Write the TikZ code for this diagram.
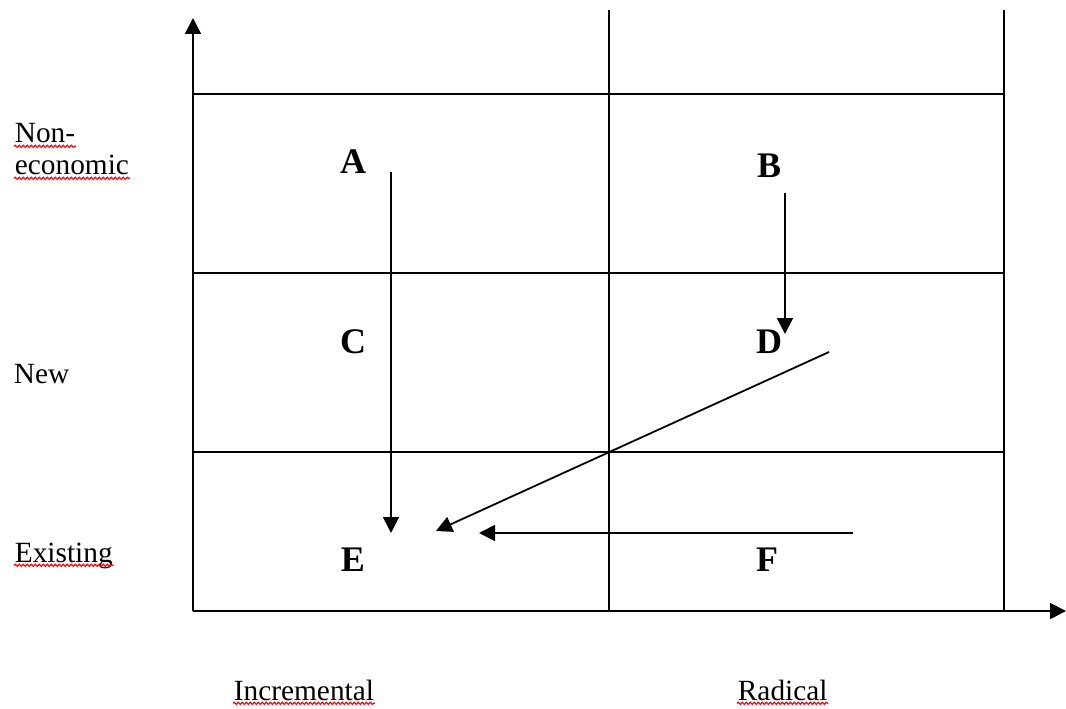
\documentclass[tikz,border=0pt]{standalone}
\usepackage{fontspec}
\setmainfont{Liberation Serif}
\usetikzlibrary{arrows.meta,decorations.pathmorphing}

\begin{document}
\begin{tikzpicture}[x=0.75pt,y=-0.75pt,line width=1.35pt,
  cell/.style={font=\fontsize{27}{30}\selectfont\bfseries,inner sep=0pt},
  lbl/.style={font=\fontsize{22}{26}\selectfont,anchor=base west,inner sep=0pt},
  arr/.style={-{Triangle[length=12pt,width=12pt]}},
  spell/.style={red,line width=0.9pt,decorate,decoration={snake,amplitude=0.8pt,segment length=3pt}}]
\useasboundingbox (0,0) rectangle (1066,709);
% axes
\coordinate (o) at (193,611);
\coordinate (ytop) at (193,18);
\coordinate (xend) at (1066,611);
\draw[arr] (o) -- (ytop);
\draw[arr] (o) -- (xend);
% grid
\draw (609,10) -- (609,611);
\draw (1004,10) -- (1004,611);
\foreach \y in {94,273,452}
  \draw (193,\y) -- (1004,\y);
% cells
\node[cell] (a) at (353,162) {A};
\node[cell] (b) at (769,166) {B};
\node[cell] (c) at (353,342) {C};
\node[cell] (d) at (769,342) {D};
\node[cell] (e) at (353,560) {E};
\node[cell] (f) at (767,560) {F};
% moves
\coordinate (a0) at (391,172);
\coordinate (a1) at (391,533);
\coordinate (b0) at (785,193);
\coordinate (b1) at (785,334);
\coordinate (d0) at (829,352);
\coordinate (d1) at (436,531);
\coordinate (f0) at (853,533);
\coordinate (f1) at (479,533);
\draw[arr] (a0) -- (a1);
\draw[arr] (b0) -- (b1);
\draw[arr] (d0) -- (d1);
\draw[arr] (f0) -- (f1);
% row labels
\node[lbl] (non) at (14,143) {Non-};
\node[lbl] (eco) at (14,175) {economic};
\node[lbl] (new) at (13,383) {New};
\node[lbl] (ex) at (14,562) {Existing};
% column labels
\node[lbl] (inc) at (233,700) {Incremental};
\node[lbl] (rad) at (737,700) {Radical};
% spelling marks
\foreach \w in {non,eco,ex,inc,rad}
  \draw[spell] ([yshift=-2.5pt]\w.base west) -- ([yshift=-2.5pt]\w.base east);
\end{tikzpicture}
\end{document}
